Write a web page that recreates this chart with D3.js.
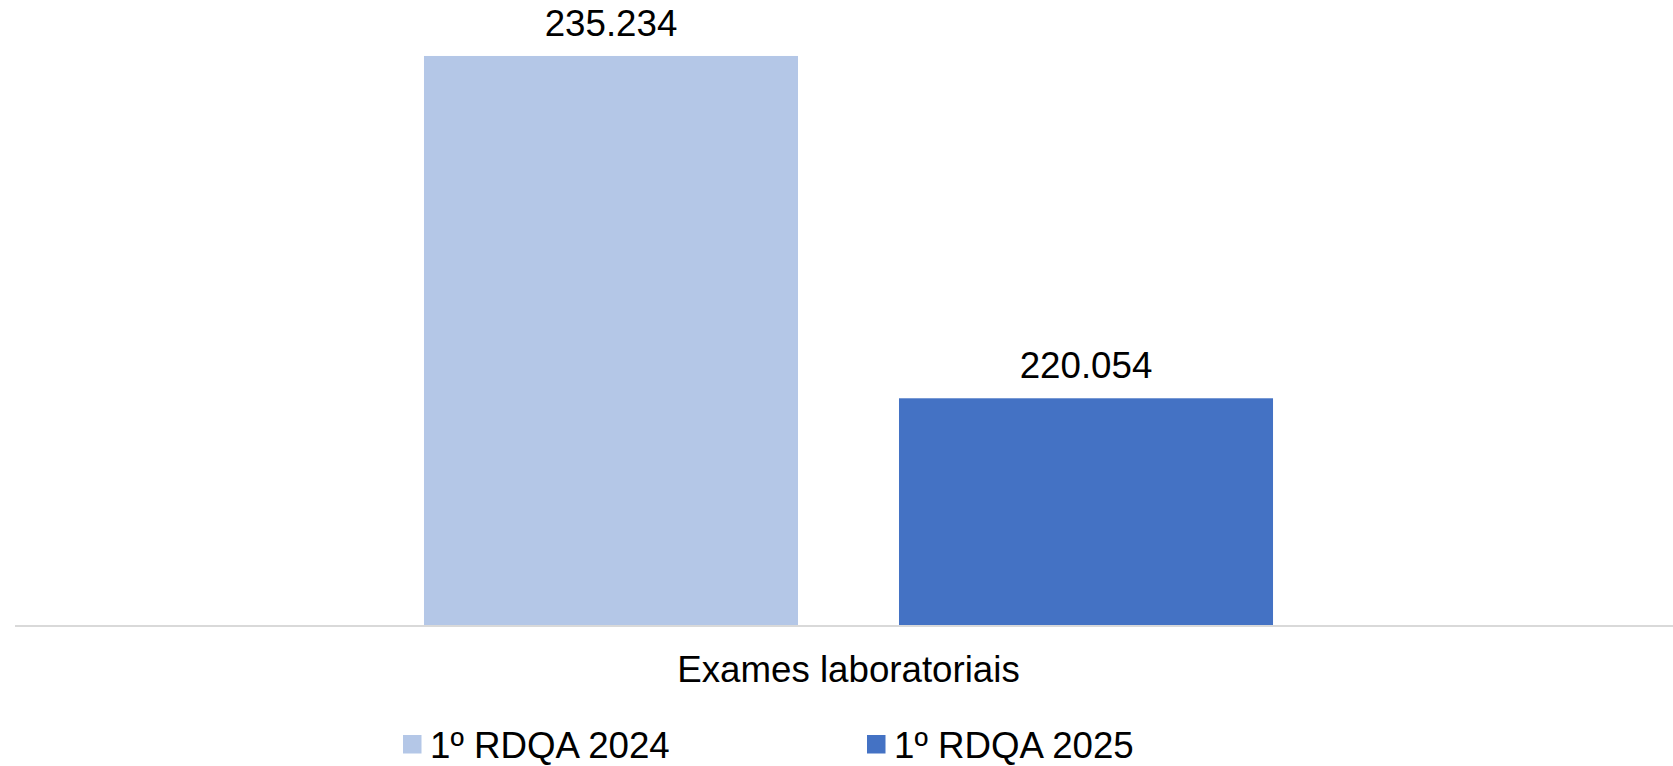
<!DOCTYPE html>
<html>
<head>
<meta charset="utf-8">
<script src="https://cdn.jsdelivr.net/npm/d3@7"></script>
<style>
html,body{margin:0;padding:0;background:#fff;}
svg{display:block;font-family:"Liberation Sans",Arial,sans-serif;}
</style>
</head>
<body>
<svg id="chart" width="1673" height="766"></svg>
<script>
const categories = ["Exames laboratoriais"];
const seriesNames = ["1º RDQA 2024", "1º RDQA 2025"];
const seriesValues = [[235234], [220054]];
const valueLabels = [["235.234"], ["220.054"]];
const colors = ["#b4c7e7", "#4472c4"];
const yDomain = [210000, 236000];

const svg = d3.select("#chart");
const fontSize = 36.7;

const x0 = d3.scaleBand().domain(categories).range([15, 1682]).paddingInner(0).paddingOuter(0.4817);
const x1 = d3.scaleBand().domain(seriesNames).range([0, x0.bandwidth()]).paddingInner(0.2126).paddingOuter(0);
const y = d3.scaleLinear().domain(yDomain).range([625, 38.7]);

const data = [];
categories.forEach((c, ci) => {
  seriesNames.forEach((s, si) => {
    data.push({cat: c, series: s, value: seriesValues[si][ci], label: valueLabels[si][ci], color: colors[si]});
  });
});

// bars
svg.append("g").selectAll("rect").data(data).join("rect")
  .attr("x", d => x0(d.cat) + x1(d.series))
  .attr("y", d => y(d.value))
  .attr("width", x1.bandwidth())
  .attr("height", d => y(yDomain[0]) - y(d.value))
  .attr("fill", d => d.color);

// axis line
svg.append("line")
  .attr("x1", 15).attr("x2", 1673)
  .attr("y1", y(yDomain[0]) + 1).attr("y2", y(yDomain[0]) + 1)
  .attr("stroke", "#d9d9d9").attr("stroke-width", 2);

// value labels
svg.append("g").selectAll("text").data(data).join("text")
  .attr("x", d => x0(d.cat) + x1(d.series) + x1.bandwidth() / 2)
  .attr("y", d => y(d.value) - 20)
  .attr("text-anchor", "middle")
  .attr("font-size", fontSize)
  .attr("fill", "#000")
  .text(d => d.label);

// category label
svg.append("g").selectAll("text").data(categories).join("text")
  .attr("x", d => x0(d) + x0.bandwidth() / 2)
  .attr("y", 682)
  .attr("text-anchor", "middle")
  .attr("font-size", fontSize)
  .attr("fill", "#000")
  .text(d => d);

// legend
const legendX = [403, 867];
const lg = svg.append("g").selectAll("g").data(seriesNames).join("g")
  .attr("transform", (d, i) => `translate(${legendX[i]},0)`);
lg.append("rect").attr("x", 0).attr("y", 735).attr("width", 18.5).attr("height", 18.5)
  .attr("fill", (d, i) => colors[i]);
lg.append("text").attr("x", 27).attr("y", 758)
  .attr("font-size", fontSize).attr("fill", "#000")
  .text(d => d);
</script>
</body>
</html>
